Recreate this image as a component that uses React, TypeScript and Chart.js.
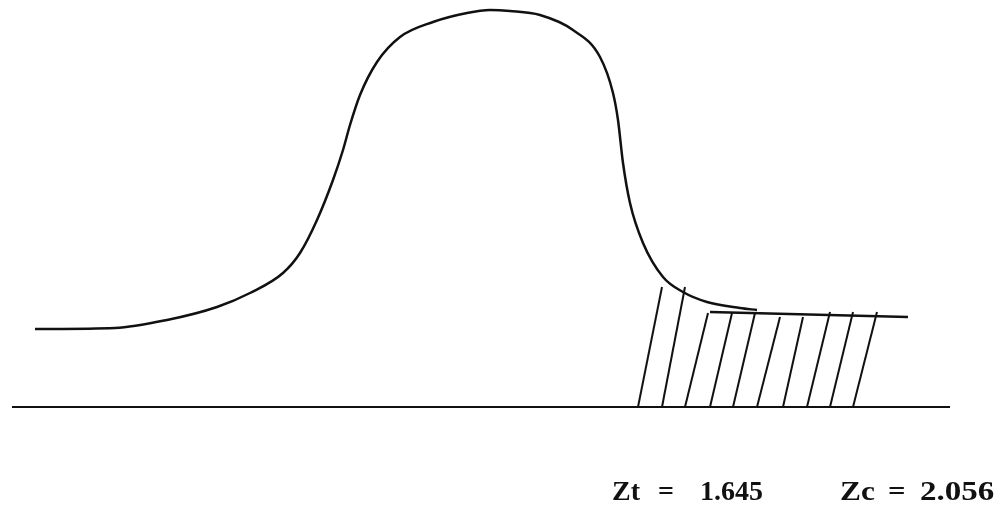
import React, { useEffect, useRef } from "react";
import { Chart, registerables } from "chart.js";

Chart.register(...registerables);

// Curve (z, density)
const curveZ = [-4.55, -3.75, -3.23, -2.73, -2.4, -2.07, -1.9, -1.73, -1.57, -1.47, -1.4, -1.3, -1.13, -0.9, -0.57, -0.23, 0, 0.2, 0.5, 0.83, 1.1, 1.23, 1.28, 1.33, 1.4, 1.53, 1.73, 1.93, 2.17, 2.5, 2.67];
const curveD = [0.078, 0.079, 0.087, 0.1, 0.114, 0.134, 0.154, 0.187, 0.227, 0.257, 0.282, 0.312, 0.345, 0.37, 0.385, 0.394, 0.397, 0.396, 0.392, 0.377, 0.35, 0.314, 0.287, 0.244, 0.204, 0.164, 0.13, 0.115, 0.105, 0.099, 0.097];

// Right tail stroke
const tailZ = [2.2, 4.18];
const tailD = [0.095, 0.09];

// Baseline
const baseZ = [-4.78, 4.6];

// Hatch lines
const hatchBottomZ = [1.48, 1.72, 1.95, 2.2, 2.43, 2.67, 2.93, 3.17, 3.4, 3.63];
const hatchTopZ = [1.72, 1.95, 2.18, 2.42, 2.65, 2.9, 3.13, 3.4, 3.63, 3.87];
const hatchTopD = [0.12, 0.12, 0.094, 0.094, 0.094, 0.09, 0.09, 0.095, 0.095, 0.095];

// Labels
const labelParts = [
  { text: "Zt", x: 612, stretch: 1 },
  { text: "=", x: 658, stretch: 1 },
  { text: "1.645", x: 700, stretch: 1 },
  { text: "Zc", x: 840, stretch: 1.12 },
  { text: "=", x: 888, stretch: 1.1 },
  { text: "2.056", x: 920, stretch: 1.18 },
];

const INK = "#111";

export default function App() {
  const ref = useRef<HTMLCanvasElement | null>(null);

  useEffect(() => {
    document.body.style.margin = "0";
    const canvas = ref.current;
    if (!canvas) return;

    const datasets: any[] = [];
    datasets.push({
      data: baseZ.map((z) => ({ x: z, y: 0 })),
      borderColor: INK,
      borderWidth: 2,
      pointRadius: 0,
      tension: 0,
    });
    datasets.push({
      data: curveZ.map((z, i) => ({ x: z, y: curveD[i] })),
      borderColor: INK,
      borderWidth: 2.5,
      pointRadius: 0,
      cubicInterpolationMode: "monotone",
    });
    datasets.push({
      data: tailZ.map((z, i) => ({ x: z, y: tailD[i] })),
      borderColor: INK,
      borderWidth: 2.5,
      pointRadius: 0,
      tension: 0,
    });
    hatchBottomZ.forEach((bz, i) => {
      datasets.push({
        data: [
          { x: bz, y: 0 },
          { x: hatchTopZ[i], y: hatchTopD[i] },
        ],
        borderColor: INK,
        borderWidth: 2,
        pointRadius: 0,
        tension: 0,
      });
    });

    const textPlugin = {
      id: "zlabels",
      afterDraw(chart: any) {
        const ctx = chart.ctx;
        ctx.save();
        ctx.fillStyle = INK;
        ctx.font = "bold 28px 'Liberation Serif', 'Times New Roman', serif";
        ctx.textBaseline = "alphabetic";
        ctx.textAlign = "left";
        labelParts.forEach((p) => {
          ctx.save();
          ctx.translate(p.x, 500);
          ctx.scale(p.stretch, 1);
          ctx.fillText(p.text, 0, 0);
          ctx.restore();
        });
        ctx.restore();
      },
    };

    const chart = new Chart(canvas, {
      type: "scatter",
      data: { datasets },
      options: {
        animation: false,
        responsive: false,
        showLine: true,
        layout: { padding: 0 },
        plugins: { legend: { display: false }, tooltip: { enabled: false } },
        scales: {
          x: { type: "linear", display: false, min: -4.9, max: 5.05 },
          y: { type: "linear", display: false, min: -0.11, max: 0.407 },
        },
        elements: { line: { fill: false } },
      } as any,
      plugins: [textPlugin],
    });

    return () => chart.destroy();
  }, []);

  return (
    <div style={{ position: "fixed", left: 0, top: 0, width: 995, height: 517, background: "#fff" }}>
      <canvas ref={ref} width={995} height={517} style={{ display: "block", width: 995, height: 517 }} />
    </div>
  );
}
